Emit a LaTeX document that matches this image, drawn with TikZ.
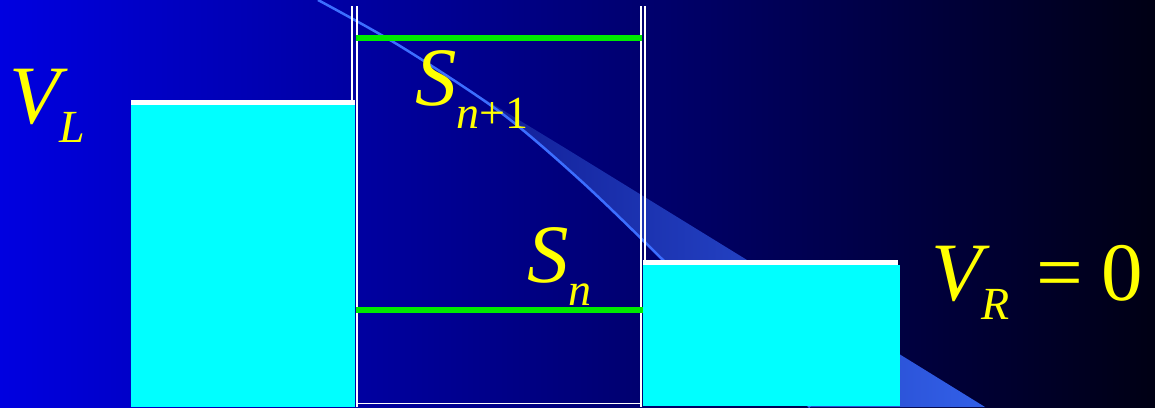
\documentclass[tikz,border=0pt]{standalone}
\usepackage{fontspec}
\setmainfont{Liberation Serif}
\definecolor{bgL}{RGB}{0,0,224}
\definecolor{bgR}{RGB}{0,0,20}
\definecolor{bandL}{RGB}{15,25,145}
\definecolor{bandR}{RGB}{50,96,232}
\definecolor{swoosh}{RGB}{60,110,255}
\definecolor{boxcyan}{RGB}{0,255,255}
\definecolor{grn}{RGB}{0,235,0}
\definecolor{txt}{RGB}{255,255,0}
\tikzset{
  lbl/.style={anchor=base west, inner sep=0pt, text=txt},
  big/.style={font=\fontsize{83}{83}\selectfont},
  small/.style={font=\fontsize{46}{46}\selectfont},
  wall/.style={draw=white, line width=2pt},
  level/.style={draw=grn, line width=6pt},
  water/.style={fill=boxcyan},
  rim/.style={fill=white}
}
\begin{document}
\begin{tikzpicture}[x=1pt,y=-1pt]
\useasboundingbox (0,0) rectangle (1155,407);
% background
\shade[left color=bgL, right color=bgR] (0,0) rectangle (1155,407);
% decorative band and swoosh
\shade[left color=bandL, right color=bandR]
  (445,75) -- (565,148) -- (747,260) -- (985,407) -- (810,407)
  -- (663,260) -- (580,180) -- (500,112) -- cycle;
\draw[swoosh, line width=2.5pt] plot[smooth] coordinates {(318,0) (400,46) (500,112) (580,180) (663,260) (810,407)};
% walls
\draw[wall] (352,6) -- (352,100);
\draw[wall] (357,6) -- (357,407);
\draw[wall] (641,6) -- (641,407);
\draw[wall] (645,6) -- (645,260);
\draw[draw=white, line width=1.5pt] (357,403.5) -- (641,403.5);
% water columns
\fill[water] (131,104) rectangle (355,407);
\fill[rim] (131,99.5) rectangle (355,104.5);
\fill[water] (643,265) rectangle (900,406);
\fill[rim] (643,260) rectangle (898,265);
% levels
\draw[level] (356,38) -- (642,38);
\draw[level] (356,310) -- (643,310);
% labels
\node[lbl, big] (vl) at (9,123) {\itshape V\raisebox{-19pt}{\fontsize{46}{46}\selectfont L}};
\node[lbl, big] (sn1) at (415,105) {\itshape S\raisebox{-23pt}{\fontsize{46}{46}\selectfont n\upshape +1}};
\node[lbl, big] (sn) at (527,282) {\itshape S\raisebox{-23pt}{\fontsize{46}{46}\selectfont n}};
\node[lbl, big] (vr) at (931,300) {\itshape V\raisebox{-19pt}{\fontsize{46}{46}\selectfont R}};
\node[lbl, big] (eq) at (1036,300) {=};
\node[lbl, big] (zero) at (1101,300) {0};
\end{tikzpicture}
\end{document}
